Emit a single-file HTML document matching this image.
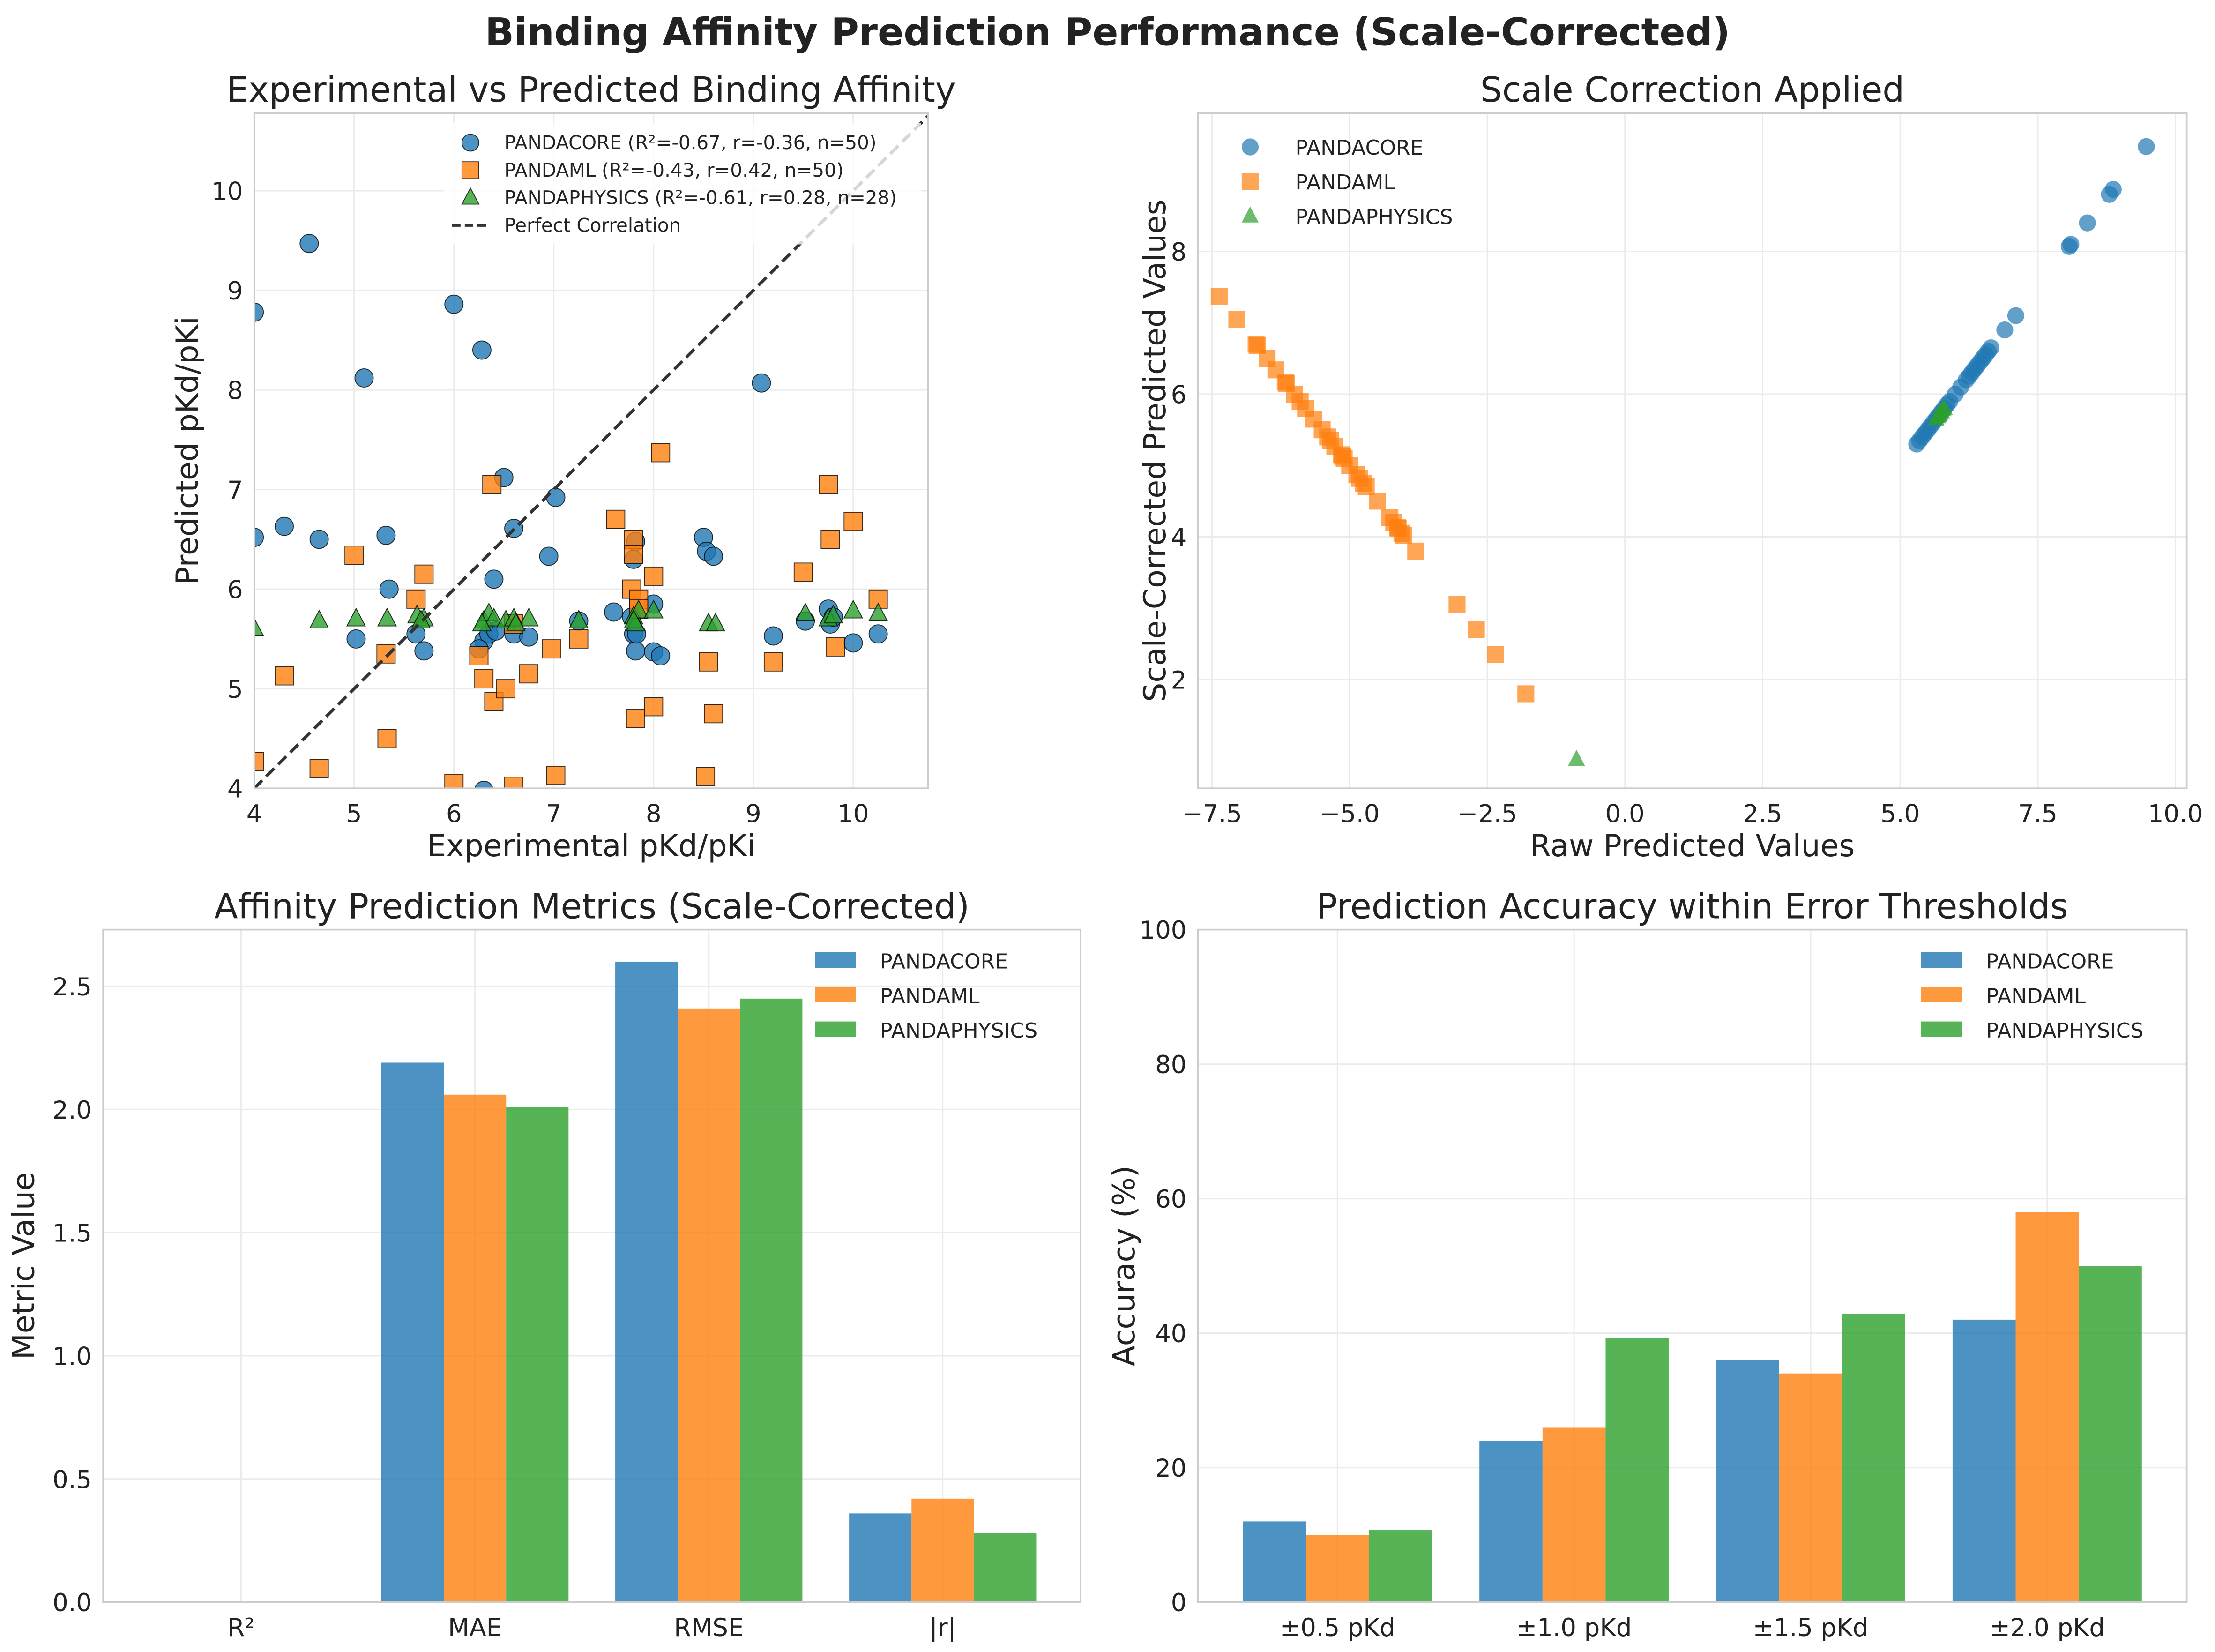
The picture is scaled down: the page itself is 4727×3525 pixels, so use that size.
<!DOCTYPE html>
<html><head><meta charset="utf-8"><style>
html,body{margin:0;padding:0;background:#fff;}
svg{display:block;font-family:"DejaVu Sans","Liberation Sans",sans-serif;}
</style></head><body>
<svg id="fig" width="4727" height="3525" viewBox="0 0 1568 1169.3" xmlns="http://www.w3.org/2000/svg">
<rect x="0" y="0" width="1568" height="1170" fill="#fff"/>
<text x="784" y="32" text-anchor="middle" font-size="27" font-weight="bold" fill="#222">Binding Affinity Prediction Performance (Scale-Corrected)</text>
</svg>
<script>
// ---------- data ----------
const coreExp=[4.0,4.55,5.1,6.0,6.28,9.08,4.3,4.65,5.32,4.0,6.5,7.02,6.6,6.95,6.4,5.35,5.02,5.62,5.7,6.3,6.35,6.6,6.75,7.25,7.6,7.8,7.82,7.8,7.82,7.83,8.0,8.0,8.07,8.5,8.53,8.6,9.2,9.52,9.75,9.77,9.8,10.0,10.25,6.25,6.3,7.78,6.42];
const corePred=[8.78,9.47,8.12,8.86,8.40,8.07,6.63,6.50,6.54,6.52,7.12,6.92,6.61,6.33,6.10,6.00,5.50,5.55,5.38,5.48,5.55,5.55,5.52,5.68,5.77,6.30,6.48,5.55,5.38,5.55,5.85,5.37,5.33,6.52,6.38,6.33,5.53,5.68,5.80,5.65,5.72,5.46,5.55,5.40,3.98,5.72,5.58];
const mlExp=[4.3,4.0,4.65,5.0,5.32,5.33,5.62,5.7,6.0,6.25,6.3,6.38,6.4,6.52,6.6,6.6,6.75,6.98,7.02,7.25,7.62,7.78,7.8,7.8,7.82,7.85,7.85,8.0,8.0,8.07,8.52,8.55,8.6,9.2,9.5,9.75,9.77,9.82,10.0,10.25];
const mlPred=[5.13,4.27,4.2,6.34,5.35,4.5,5.9,6.15,4.05,5.33,5.1,7.05,4.87,5.0,5.65,4.02,5.15,5.4,4.13,5.5,6.7,6.0,6.5,6.35,4.7,5.9,5.8,6.13,4.82,7.37,4.12,5.27,4.75,5.27,6.17,7.05,6.5,5.42,6.68,5.9];
const phyExp=[4.0,4.65,5.02,5.33,5.63,5.7,6.3,6.35,6.4,6.52,6.6,6.75,7.25,7.8,7.82,7.85,8.0,8.55,8.62,9.52,9.75,9.8,10.0,10.25,6.62,7.8,6.28,5.67];
const phyPred=[5.6,5.68,5.7,5.7,5.73,5.7,5.68,5.75,5.7,5.68,5.7,5.7,5.68,5.72,5.65,5.78,5.78,5.65,5.65,5.75,5.7,5.73,5.78,5.75,5.65,5.68,5.65,5.68];
const coreRaw=[5.3,5.35,5.4,5.45,5.5,5.55,5.6,5.65,5.7,5.75,5.8,5.85,5.9,6.0,6.1,6.2,6.25,6.3,6.35,6.4,6.45,6.5,6.55,6.6,6.65,6.9,7.1,8.07,8.1,8.4,8.8,8.87,9.47];
const coreCorr=[5.3,5.35,5.4,5.45,5.5,5.55,5.6,5.65,5.7,5.75,5.8,5.85,5.9,6.0,6.1,6.2,6.25,6.3,6.35,6.4,6.45,6.5,6.55,6.6,6.65,6.9,7.1,8.07,8.1,8.4,8.8,8.87,9.47];
const mlRaw=[-7.37,-7.05,-6.7,-6.68,-6.5,-6.34,-6.17,-6.15,-6.0,-5.9,-5.8,-5.65,-5.5,-5.4,-5.35,-5.27,-5.15,-5.13,-5.1,-5.0,-4.87,-4.82,-4.75,-4.7,-4.5,-4.27,-4.2,-4.13,-4.12,-4.05,-4.02,-3.8,-3.05,-2.7,-2.35,-1.8];
const mlCorr=[7.37,7.05,6.7,6.68,6.5,6.34,6.17,6.15,6.0,5.9,5.8,5.65,5.5,5.4,5.35,5.27,5.15,5.13,5.1,5.0,4.87,4.82,4.75,4.7,4.5,4.27,4.2,4.13,4.12,4.05,4.02,3.8,3.05,2.7,2.35,1.8];
const phyRaw=[5.65,5.68,5.7,5.72,5.75,5.78,5.8,-0.88];
const phyCorr=[5.65,5.68,5.7,5.72,5.75,5.78,5.8,0.88];
const metricCats=["R²","MAE","RMSE","|r|"];
const metricCore=[-0.67,2.19,2.60,0.36];
const metricML=[-0.43,2.06,2.41,0.42];
const metricPhy=[-0.61,2.01,2.45,0.28];
const accCats=["±0.5 pKd","±1.0 pKd","±1.5 pKd","±2.0 pKd"];
const accCore=[12,24,36,42];
const accML=[10,26,34,58];
const accPhy=[10.7,39.3,42.9,50];
const ticks1=[4,5,6,7,8,9,10];
const ticks2x=[-7.5,-5.0,-2.5,0.0,2.5,5.0,7.5,10.0];
const ticks2y=[2,4,6,8];
const ticks3y=[0,0.5,1.0,1.5,2.0,2.5];
const ticks4y=[0,20,40,60,80,100];

const NS="http://www.w3.org/2000/svg";
const svg=document.getElementById('fig');
function el(tag,attrs,parent,text){const e=document.createElementNS(NS,tag);for(const k in attrs)e.setAttribute(k,attrs[k]);if(text!==undefined)e.textContent=text;(parent||svg).appendChild(e);return e;}
const C={b:"#1f77b4",o:"#ff7f0e",g:"#2ca02c"};
const TK=17.5, AX=21.5, TT=24.5;

function panel(name,L,T,R,B,xd,yd){
  const g=el('g',{},svg);
  
  
  const sx=v=>L+(v-xd[0])/(xd[1]-xd[0])*(R-L);
  const sy=v=>B-(v-yd[0])/(yd[1]-yd[0])*(B-T);
  const clip='clip-'+name;
  const cp=el('clipPath',{id:clip},g);el('rect',{x:L,y:T,width:R-L,height:B-T},cp);
  return {g,sx,sy,L,T,R,B,clip};
}
function frame(p){const r=el('rect',{x:p.L,y:p.T,width:p.R-p.L,height:p.B-p.T,fill:'none',stroke:'#cccccc','stroke-width':1.2},p.g);}
function xgrid(p,ticks,fmt){ticks.forEach(t=>{const x=p.sx(t);el('line',{x1:x,x2:x,y1:p.T,y2:p.B,stroke:'#ebebeb','stroke-width':1},p.g);const tx=el('text',{x:x,y:p.B+24,'text-anchor':'middle','font-size':TK,fill:'#222'},p.g,fmt?fmt(t):String(t));});}
function ygrid(p,ticks,fmt){ticks.forEach(t=>{const y=p.sy(t);el('line',{x1:p.L,x2:p.R,y1:y,y2:y,stroke:'#ebebeb','stroke-width':1},p.g);const tx=el('text',{x:p.L-8,y:y+6.5,'text-anchor':'end','font-size':TK,fill:'#222'},p.g,fmt?fmt(t):String(t));});}
function title(p,s){const t=el('text',{x:(p.L+p.R)/2,y:p.T-8,'text-anchor':'middle','font-size':TT,fill:'#222'},p.g,s);}
function xlabel(p,s){const t=el('text',{x:(p.L+p.R)/2,y:p.B+48,'text-anchor':'middle','font-size':AX,fill:'#222'},p.g,s);}
function ylabel(p,s,x){const cy=(p.T+p.B)/2;const t=el('text',{x:x,y:cy,'text-anchor':'middle','font-size':AX,fill:'#222',transform:`rotate(-90 ${x} ${cy})`},p.g,s);}
function marker(parent,type,x,y,color,s,edge,op){
  let m;
  if(type==='c')m=el('circle',{cx:x,cy:y,r:s},parent);
  else if(type==='s')m=el('rect',{x:x-s,y:y-s,width:2*s,height:2*s},parent);
  else m=el('polygon',{points:`${x},${y-s*1.15} ${x-s},${y+s*0.75} ${x+s},${y+s*0.75}`},parent);
  m.setAttribute('fill',color);m.setAttribute('fill-opacity',op);
  if(edge){m.setAttribute('stroke','#000');m.setAttribute('stroke-width',0.6);m.setAttribute('stroke-opacity',0.8);}
  return m;
}

// ---------- Panel 1 ----------
{
const p=panel('scatter-experimental-vs-predicted',180,80,657,558,[4,10.75],[4,10.78]);
xgrid(p,ticks1);ygrid(p,ticks1);
const d=el('g',{'clip-path':`url(#${p.clip})`},p.g);
const sets=[[coreExp,corePred,'c',C.b,'pandacore-point'],[mlExp,mlPred,'s',C.o,'pandaml-point'],[phyExp,phyPred,'t',C.g,'pandaphysics-point']];
sets.forEach(([xs,ys,t,c,n])=>xs.forEach((v,i)=>{const m=marker(d,t,p.sx(v),p.sy(ys[i]),c,6.5,true,0.8);}));
const ln=el('line',{x1:p.sx(4),y1:p.sy(4),x2:p.sx(10.75),y2:p.sy(10.75),stroke:'#333','stroke-width':2.2,'stroke-dasharray':'8,4'},d);

frame(p);title(p,'Experimental vs Predicted Binding Affinity');xlabel(p,'Experimental pKd/pKi');ylabel(p,'Predicted pKd/pKi',140);
const lg=el('g',{},p.g);
el('rect',{x:314,y:87,width:338,height:86,fill:'#fff','fill-opacity':0.8,stroke:'none'},lg);
const ent=[['c',C.b,'PANDACORE (R²=-0.67, r=-0.36, n=50)'],['s',C.o,'PANDAML (R²=-0.43, r=0.42, n=50)'],['t',C.g,'PANDAPHYSICS (R²=-0.61, r=0.28, n=28)']];
ent.forEach((e,i)=>{const y=101+i*19.5;const m=marker(lg,e[0],333,y,e[1],6,true,0.8);const t=el('text',{x:357,y:y+4.5,'font-size':13.4,fill:'#222'},lg,e[2]);});
const y=101+3*19.5;el('line',{x1:320,x2:346,y1:y,y2:y,stroke:'#333','stroke-width':2,'stroke-dasharray':'6,3'},lg);
const t=el('text',{x:357,y:y+4.5,'font-size':13.4,fill:'#222'},lg,'Perfect Correlation');
}
// ---------- Panel 2 ----------
{
const p=panel('scatter-scale-correction',848,80,1548,558,[-7.757,10.205],[0.475,9.94]);
xgrid(p,ticks2x,v=>v.toFixed(1).replace('-','−'));ygrid(p,ticks2y);
const d=el('g',{'clip-path':`url(#${p.clip})`},p.g);
[[coreRaw,coreCorr,'c',C.b,'pandacore-point'],[mlRaw,mlCorr,'s',C.o,'pandaml-point'],[phyRaw,phyCorr,'t',C.g,'pandaphysics-point']].forEach(([xs,ys,t,c,n])=>xs.forEach((v,i)=>{const m=marker(d,t,p.sx(v),p.sy(ys[i]),c,6,false,0.7);}));
frame(p);title(p,'Scale Correction Applied');xlabel(p,'Raw Predicted Values');ylabel(p,'Scale-Corrected Predicted Values',825);
const lg=el('g',{},p.g);
[['c',C.b,'PANDACORE'],['s',C.o,'PANDAML'],['t',C.g,'PANDAPHYSICS']].forEach((e,i)=>{const y=104+i*24.5;const m=marker(lg,e[0],885,y,e[1],6,false,0.7);const t=el('text',{x:917,y:y+5.5,'font-size':14.6,fill:'#222'},lg,e[2]);});
}
// ---------- bar panels ----------
function bars(name,L,R,yd,cats,series,ticks,fmt,ttl,yl,ylx){
  const p=panel(name,L,658,R,1134,[-0.59,3.59],yd);
  ygrid(p,ticks,fmt);
  cats.forEach((c,i)=>{const x=p.sx(i);el('line',{x1:x,x2:x,y1:p.T,y2:p.B,stroke:'#ebebeb','stroke-width':1},p.g);const t=el('text',{x:x,y:p.B+24,'text-anchor':'middle','font-size':TK,fill:'#222'},p.g,c);});
  const d=el('g',{'clip-path':`url(#${p.clip})`},p.g);
  const w=0.2667;
  series.forEach(([vals,col,n],k)=>vals.forEach((v,i)=>{const x0=p.sx(i-0.4+k*w),x1=p.sx(i-0.4+(k+1)*w);const y0=p.sy(Math.max(0,v)),yb=p.sy(0);const r=el('rect',{x:x0,y:Math.min(y0,yb),width:x1-x0,height:Math.abs(yb-y0),fill:col,'fill-opacity':0.8},d);}));
  frame(p);title(p,ttl);ylabel(p,yl,ylx);
  const lg=el('g',{},p.g);
  series.forEach((s,i)=>{const y=680+i*24.5;const r=el('rect',{x:R-188,y:y-6,width:29,height:11,fill:s[1],'fill-opacity':0.8},lg);const t=el('text',{x:R-142,y:y+5.5,'font-size':14.6,fill:'#222'},lg,s[3]);});
}
bars('bar-chart-metrics',73,765,[0,2.73],metricCats,[[metricCore,C.b,'bar-pandacore','PANDACORE'],[metricML,C.o,'bar-pandaml','PANDAML'],[metricPhy,C.g,'bar-pandaphysics','PANDAPHYSICS']],ticks3y,v=>v.toFixed(1),'Affinity Prediction Metrics (Scale-Corrected)','Metric Value',24);
bars('bar-chart-accuracy',848,1548,[0,100],accCats,[[accCore,C.b,'bar-pandacore','PANDACORE'],[accML,C.o,'bar-pandaml','PANDAML'],[accPhy,C.g,'bar-pandaphysics','PANDAPHYSICS']],ticks4y,null,'Prediction Accuracy within Error Thresholds','Accuracy (%)',803);
</script>
</body></html>
